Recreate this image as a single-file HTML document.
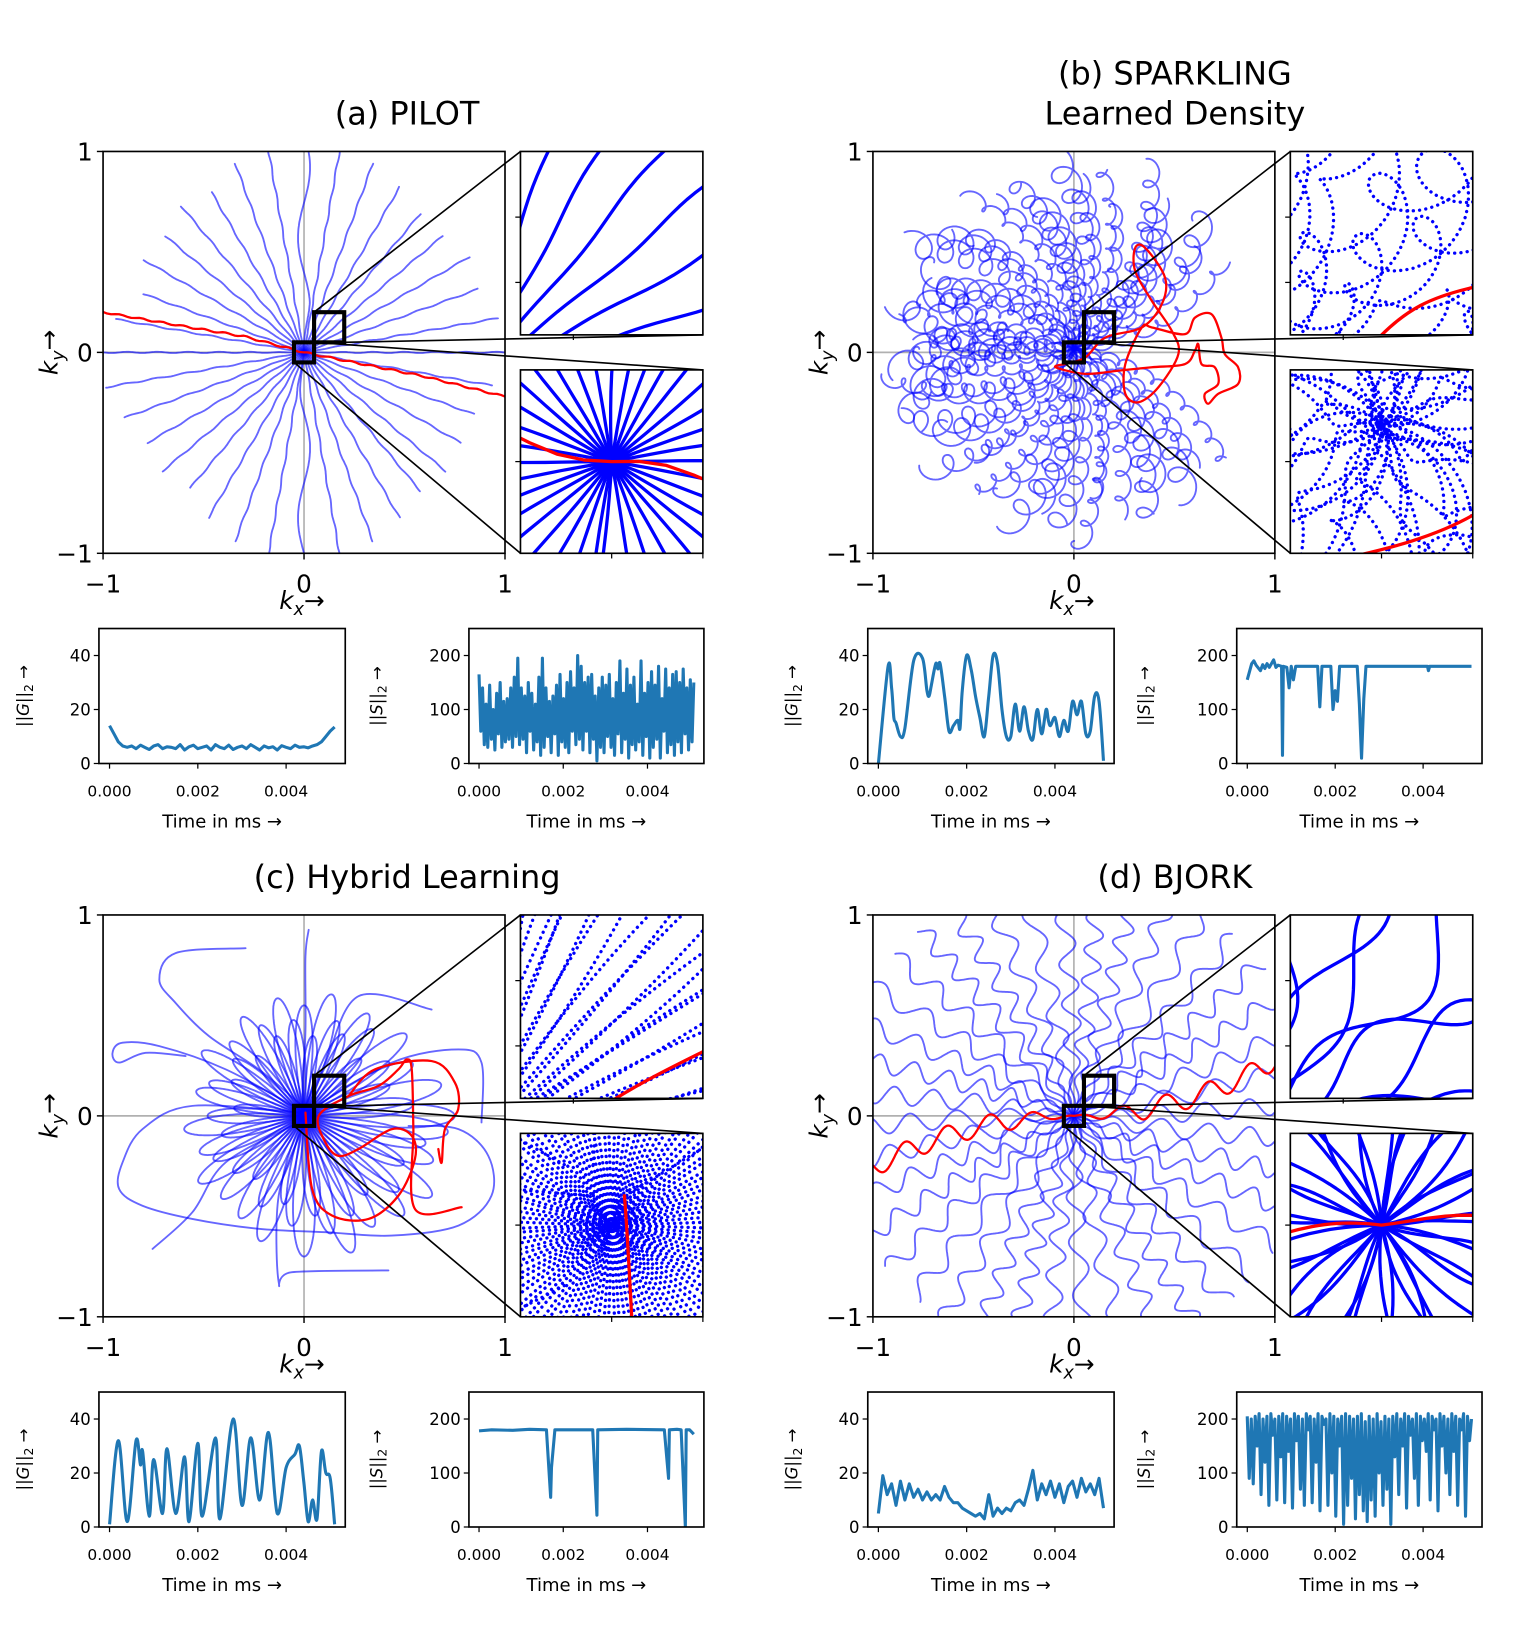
<!DOCTYPE html>
<html><head><meta charset="utf-8"><style>
html,body{margin:0;padding:0;background:#fff;overflow:hidden;width:1515px;height:1629px;}
svg{display:block;font-family:"DejaVu Sans","Liberation Sans",sans-serif;}
</style></head><body>
<svg id="fig" width="1515" height="1629" viewBox="0 0 1470 1581" preserveAspectRatio="none" xmlns="http://www.w3.org/2000/svg">
<rect x="0" y="0" width="1470" height="1581" fill="#fff"/>
</svg>
<script>
// ---------- time series data ----------
const gaValues=[14,11,8,6.5,6,6.5,5.5,6.8,6,5.2,6.5,7,5.5,6.2,6,5.5,7,5,6.2,6.8,5.5,6,6.5,5,7,6,5.5,6.8,5.2,6,6.5,5.5,7,6,5,6.5,5.8,6.2,5,6.6,6,5.5,6.8,6,6.2,5.8,6.5,7,8,10,12,13.5];
const saValues=[165,60,140,35,110,30,145,45,100,25,130,55,150,30,115,40,120,45,140,30,160,50,195,35,140,45,125,20,150,60,130,25,110,40,160,15,195,30,140,50,115,20,125,55,145,15,165,40,120,30,150,20,170,60,140,35,200,45,180,25,150,60,160,20,165,45,125,5,140,30,160,20,145,50,165,30,120,15,150,55,190,20,130,45,175,10,145,35,160,25,110,40,190,15,130,50,150,10,170,30,145,45,180,10,120,60,175,20,140,35,165,15,170,40,150,20,175,55,140,25,155,40,150];
const gbTimes=[0,0.00022,0.0003,0.00035,0.0004,0.0005,0.0006,0.0008,0.001,0.0011,0.00115,0.0012,0.0013,0.00135,0.0014,0.0015,0.0016,0.0017,0.0018,0.00185,0.0019,0.002,0.0021,0.0022,0.0023,0.0024,0.0025,0.0026,0.0027,0.0028,0.0029,0.003,0.0031,0.0032,0.0033,0.0034,0.0035,0.0036,0.0037,0.0038,0.00385,0.0039,0.004,0.0041,0.0042,0.0043,0.0044,0.0045,0.0046,0.0047,0.0048,0.0049,0.005,0.0051];
const gbValues=[0,36,28,17,15,10,13,38,39,27,25,29,37,35,37,25,12,14,16,13,27,40,35,25,17,10,25,40,37,20,10,10,22,12,21,12,9,20,11,20,16,14,17,10,16,12,23,18,23,11,12,25,23,1];
const sbTimes=[0,0.0001,0.00015,0.0002,0.0003,0.00035,0.0004,0.00045,0.0005,0.0006,0.00065,0.0007,0.00078,0.0008,0.00082,0.0009,0.00095,0.001,0.00105,0.0011,0.0012,0.0016,0.00165,0.0017,0.0019,0.00195,0.002,0.00205,0.0021,0.0025,0.00255,0.0026,0.00265,0.0027,0.0041,0.00412,0.00415,0.0051];
const sbValues=[155,185,190,182,172,183,176,185,178,192,178,182,180,15,180,178,140,180,155,180,180,180,105,180,180,100,135,115,180,180,110,10,120,180,180,172,180,180];
const gcTimes=[0,0.0002,0.0004,0.0006,0.0007,0.00075,0.0009,0.001,0.0012,0.0013,0.0015,0.0017,0.0018,0.002,0.0021,0.0024,0.0025,0.0028,0.003,0.0032,0.0034,0.0036,0.0038,0.004,0.0042,0.0043,0.0044,0.0045,0.0046,0.0047,0.0048,0.0049,0.005,0.0051];
const gcValues=[1,32,2,32,23,28,4,25,5,29,5,26,2,31,4,33,3,40,8,33,10,35,5,22,27,30,17,2,10,3,28,20,18,1];
const scTimes=[0,0.0003,0.0008,0.0012,0.0016,0.0017,0.00172,0.0018,0.0027,0.0028,0.00282,0.0035,0.0044,0.0045,0.00452,0.0047,0.0048,0.0049,0.00492,0.005,0.0051];
const scValues=[178,180,179,181,180,55,110,180,180,22,180,181,180,90,180,181,180,0,180,180,172];
const gdValues=[5,19,12,16,8,17,10,16,11,14,10,13,10,12,10,15,11,9,9,7,6,5,4,5,3,12,4,7,5,7,6,9,10,8,14,21,10,16,12,17,11,16,9,15,17,11,18,13,16,12,18,7];
const sdValues=[205,90,200,80,205,150,210,60,200,120,205,40,210,170,200,50,205,130,210,45,205,140,200,35,210,160,205,70,200,40,210,180,205,45,200,120,210,30,205,190,200,40,210,100,205,20,200,150,205,5,210,40,205,90,200,15,205,60,210,30,195,10,205,50,200,20,210,100,195,40,205,70,200,5,205,130,210,60,200,150,210,35,205,170,200,90,210,40,205,160,200,140,210,50,205,180,200,30,210,150,205,100,200,60,210,140,205,40,200,180,210,20,205,160,200];
const timeTicks=[0,0.002,0.004];
const timeTickLabels=["0.000","0.002","0.004"];
const gTicks=[0,20,40];
const sTicks=[0,100,200];

// ---------- trajectory parameters ----------
const pilotAngles=[0,10,20,30,40,50,60,70,80,90,100,110,120,130,140,150,160,170];
const pilotPosLen=[1.0,0.98,0.92,0.95,0.9,0.9,0.95,1.0,1.05,1.05,1.05,1.0,0.92,0.95,0.9,0.92,0.85,0.95];
const pilotNegLen=[1.0,1.0,0.95,0.9,0.92,0.88,0.95,1.0,1.05,1.05,1.05,1.0,0.95,0.9,0.92,0.9,0.9,0.95];
const pilotRed=[[-1,0.2],[-0.6,0.13],[-0.3,0.08],[0,0],[0.3,-0.06],[0.6,-0.12],[1,-0.22]];
const sparkRadii=[0.85,0.75,0.9,0.7,0.8,0.95,0.72,0.88,0.78,0.92,0.7,0.85,0.8,0.9,0.74,0.86,0.95,0.7,0.82,0.9,0.76,0.88,0.8,0.93];
const sparkRed=[[-0.042,-0.058],[0.057,-0.025],[0.157,0.074],[0.338,0.124],[0.437,0.239],[0.454,0.371],[0.355,0.52],[0.305,0.52],[0.305,0.404],[0.388,0.256],[0.487,0.107],[0.52,-0.008],[0.421,-0.173],[0.322,-0.248],[0.256,-0.206],[0.256,-0.058],[0.338,0.124],[0.388,0.124],[0.553,0.091],[0.602,0.173],[0.685,0.19],[0.734,0.074],[0.751,-0.008],[0.817,-0.074],[0.817,-0.157],[0.718,-0.206],[0.668,-0.256],[0.652,-0.206],[0.718,-0.157],[0.701,-0.074],[0.635,-0.058],[0.619,0.041],[0.602,0.008],[0.553,-0.058],[0.388,-0.074],[0.223,-0.091],[0.057,-0.107],[-0.091,-0.074],[-0.042,-0.058]];
const hybridLens=[0.75,0.55,0.7,0.45,0.6,0.5,0.65,0.4,0.55,0.6,0.45,0.5,0.62,0.4,0.55,0.48,0.6,0.42,0.5,0.58,0.38,0.52,0.45,0.6,0.4,0.5,0.55,0.35,0.48,0.6,0.42,0.55,0.5,0.62,0.45,0.58,0.4,0.6,0.5,0.66,0.45,0.55,0.7,0.5,0.6,0.72,0.55,0.65,0.5,0.7,0.6,0.75,0.55,0.68,0.62,0.72];
const hybridOuter=[
 [[-0.01,0.016],[-0.556,0.05],[-0.804,-0.066],[-0.903,-0.232],[-0.92,-0.364],[-0.804,-0.447],[-0.556,-0.513],[-0.225,-0.562],[0.106,-0.579],[0.437,-0.596],[0.768,-0.546],[0.933,-0.397],[0.917,-0.199],[0.768,-0.066],[0.52,-0.05]],
 [[-0.01,0.05],[-0.225,0.232],[-0.473,0.397],[-0.639,0.562],[-0.72,0.678],[-0.639,0.81],[-0.291,0.835]],
 [[-0.026,0.033],[-0.39,0.232],[-0.72,0.347],[-0.903,0.364],[-0.953,0.314],[-0.92,0.265],[-0.788,0.314],[-0.589,0.298]],
 [[-0.026,-0.033],[-0.39,-0.232],[-0.556,-0.48],[-0.754,-0.662]],
 [[-0.01,-0.066],[-0.126,-0.397],[-0.126,-0.827],[-0.06,-0.778],[0.42,-0.769]],
 [[-0.01,0.033],[0.007,0.43],[0.007,0.794],[0.023,0.926]],
 [[0.007,0.05],[0.106,0.265],[0.271,0.596],[0.635,0.529]],
 [[0.007,0.016],[0.437,0.265],[0.768,0.331],[0.883,0.265],[0.883,-0.033]]
];
const hybridRed1=[[0.007,0.016],[0.04,-0.363],[0.139,-0.496],[0.321,-0.513],[0.47,-0.397],[0.552,-0.215],[0.536,-0.099],[0.437,-0.066],[0.271,-0.165],[0.172,-0.199],[0.106,-0.132],[0.073,0],[0.222,0.099],[0.371,0.149],[0.47,0.232],[0.511,0.281],[0.536,0.232],[0.544,-0.066],[0.552,-0.463],[0.784,-0.455]];
const hybridRed2=[[0.222,0.099],[0.354,0.232],[0.635,0.273],[0.751,0.165],[0.767,0.033],[0.701,-0.066],[0.685,-0.232],[0.668,-0.165]];
const bjorkCount=40;

const NS="http://www.w3.org/2000/svg";
const svg=document.getElementById('fig');
function el(tag,attrs,parent){const e=document.createElementNS(NS,tag);for(const k in attrs)e.setAttribute(k,attrs[k]);(parent||svg).appendChild(e);return e;}
function txt(s,attrs,parent){const e=el('text',attrs,parent);e.textContent=s;return e;}

function catmull(P){
  if(P.length<3)return "M"+P.map(p=>p[0].toFixed(1)+","+p[1].toFixed(1)).join("L");
  let d="M"+P[0][0].toFixed(1)+","+P[0][1].toFixed(1);
  for(let i=0;i<P.length-1;i++){
    const p0=P[Math.max(0,i-1)],p1=P[i],p2=P[i+1],p3=P[Math.min(P.length-1,i+2)];
    const c1=[p1[0]+(p2[0]-p0[0])/6,p1[1]+(p2[1]-p0[1])/6],c2=[p2[0]-(p3[0]-p1[0])/6,p2[1]-(p3[1]-p1[1])/6];
    d+="C"+c1[0].toFixed(1)+","+c1[1].toFixed(1)+" "+c2[0].toFixed(1)+","+c2[1].toFixed(1)+" "+p2[0].toFixed(1)+","+p2[1].toFixed(1);
  }
  return d;
}
function poly(P){return "M"+P.map(p=>p[0].toFixed(1)+","+p[1].toFixed(1)).join("L");}

// ---------- trajectory builders ----------
function pilotTraj(){
  const T=[];
  pilotAngles.forEach((a,i)=>{
    const th=a*Math.PI/180,c=Math.cos(th),s=Math.sin(th);
    const amp=(a===90)?0.03:0.003;
    const pts=[];
    for(let k=0;k<=220;k++){
      const r=-pilotNegLen[i]+(pilotPosLen[i]+pilotNegLen[i])*k/220;
      const w=amp*Math.sin(r*(a===90?9:41)+i)*Math.min(1,Math.abs(r)*4);
      pts.push([r*c-w*s,r*s+w*c]);
    }
    T.push({pts:pts,red:false,smooth:false});
  });
  const rp=[];for(let i=0;i<pilotRed.length-1;i++){for(let k=0;k<20;k++){const f=k/20;const x=pilotRed[i][0]+(pilotRed[i+1][0]-pilotRed[i][0])*f,y=pilotRed[i][1]+(pilotRed[i+1][1]-pilotRed[i][1])*f;rp.push([x,y+0.004*Math.sin(x*60)]);}}
  rp.push(pilotRed[pilotRed.length-1]);
  T.push({pts:rp,red:true,smooth:false});
  return T;
}
function sparkTraj(){
  const T=[];
  sparkRadii.forEach((R,i)=>{
    const th=i*7.5*Math.PI/180,ph=i*1.7,nl=15+(i%6);
    const pts=[];
    for(let k=0;k<=600;k++){
      const s=k/600,u=2*s-1,r=R*u,ang=th+0.5*u;
      const a=(0.05+0.02*Math.sin(5*s+i))*Math.sqrt(Math.abs(u));
      pts.push([r*Math.cos(ang)+a*Math.cos(2*Math.PI*nl*s+ph),1.05*r*Math.sin(ang)+a*Math.sin(2*Math.PI*nl*s+ph)+0.02]);
    }
    T.push({pts:pts,red:false,smooth:false});
  });
  T.push({pts:sparkRed,red:true,smooth:true});
  return T;
}
function hybridTraj(){
  const T=[];
  hybridLens.forEach((L,i)=>{
    const th=i*(2*Math.PI/hybridLens.length),d=0.2;
    const pts=[];
    for(let k=0;k<=120;k++){
      const s=k/120,r=L*Math.pow(Math.sin(Math.PI*s),0.8),ang=th+d*(2*s-1);
      pts.push([r*Math.cos(ang),r*Math.sin(ang)]);
    }
    T.push({pts:pts,red:false,smooth:false});
  });
  hybridOuter.forEach(p=>T.push({pts:p,red:false,smooth:true}));
  T.push({pts:hybridRed1,red:true,smooth:true});
  T.push({pts:hybridRed2,red:true,smooth:true});
  return T;
}
function bjorkTraj(){
  const T=[];
  for(let i=0;i<bjorkCount;i++){
    const th=i*2*Math.PI/bjorkCount,ph=i*2.3,wl=0.2+0.04*Math.sin(i*1.3);
    const pts=[];
    for(let k=0;k<=300;k++){
      const r=1.2*k/300,ang=th+0.05*r;
      const w=0.045*Math.min(1,r/0.35)*Math.sin(2*Math.PI*r/wl+ph+0.8*Math.sin(5*r+i));
      const c=Math.cos(ang),s=Math.sin(ang);
      pts.push([r*c-w*s,r*s+w*c]);
    }
    T.push({pts:pts,red:false,smooth:false});
  }
  const rp=[];
  for(let k=-300;k<=300;k++){
    const r=1.05*k/300,ang=(r<0?(14*Math.PI/180):(15*Math.PI/180))*Math.abs(r);
    const w=0.05*Math.min(1,Math.abs(r)/0.35)*Math.sin(2*Math.PI*r/0.22+1);
    const rr=Math.abs(r),a2=r<0?Math.PI+ang:ang;
    rp.push([rr*Math.cos(a2),rr*Math.sin(a2)+w]);
  }
  T.push({pts:rp,red:true,smooth:false});
  return T;
}

let clipId=0;
function drawTrajs(T,map,clipRect,inset,dotted,name){
  const id='clip'+(clipId++);
  const cp=el('clipPath',{id:id});el('rect',clipRect,cp);
  const g=el('g',{'clip-path':'url(#'+id+')'});
  
  
  T.filter(t=>!t.red).concat(T.filter(t=>t.red)).forEach(t=>{
    const P=t.pts.map(p=>map(p[0],p[1]));
    const d=t.smooth?catmull(P):poly(P);
    const attrs={d:d,fill:'none','stroke-linejoin':'round','stroke-linecap':'round'};
    if(t.red){attrs.stroke='#ff0000';attrs['stroke-width']=inset?3.2:2.2;}
    else if(inset){attrs.stroke='#0000ff';attrs['stroke-width']=3.2;if(dotted){attrs['stroke-dasharray']='0.1 6';}}
    else{attrs.stroke='#0000ff';attrs['stroke-opacity']=0.6;attrs['stroke-width']=1.8;}
    const p=el('path',attrs,g);
    
    
  });
}

const W=195;
function kLabel(x,y,sub,rot,parent){
  const t=el('text',{x:x,y:y,'font-size':24,'text-anchor':'middle',transform:rot?('rotate(-90 '+x+' '+y+')'):''},parent);
  const a=el('tspan',{'font-style':'italic'},t);a.textContent='k';
  const b=el('tspan',{'font-style':'italic','font-size':17,dy:6},t);b.textContent=sub;
  const c=el('tspan',{dy:-6},t);c.textContent='→';
  return t;
}

function panel(ox,oy,T,dotted,name){
  const g=el('g',{});
  
  
  const map=(x,y)=>[ox+(x+1)*W,oy+(1-y)*W];
  el('line',{x1:ox+W,y1:oy,x2:ox+W,y2:oy+2*W,stroke:'#b0b0b0','stroke-width':1.6},g);
  el('line',{x1:ox,y1:oy+W,x2:ox+2*W,y2:oy+W,stroke:'#b0b0b0','stroke-width':1.6},g);
  drawTrajs(T,map,{x:ox,y:oy,width:2*W,height:2*W},false,false,name+'-main-trajectories');
  const ix=ox+405,iw=177,ih=178;
  const r1=[0.05,0.2,0.05,0.2],r2=[-0.05,0.05,-0.05,0.05];
  const iy1=oy,iy2=oy+212;
  const im=(iy,r)=>(x,y)=>[ix+(x-r[0])/(r[1]-r[0])*iw,iy+(r[3]-y)/(r[3]-r[2])*ih];
  drawTrajs(T,im(iy1,r1),{x:ix,y:iy1,width:iw,height:ih},true,dotted,name+'-zoom-inset-outer');
  drawTrajs(T,im(iy2,r2),{x:ix,y:iy2,width:iw,height:ih},true,dotted,name+'-zoom-inset-center');
  const f=el('rect',{x:ox,y:oy,width:2*W,height:2*W,fill:'none',stroke:'#000','stroke-width':1.6});
  
  [iy1,iy2].forEach((iy,j)=>{
    const r=el('rect',{x:ix,y:iy,width:iw,height:ih,fill:'none',stroke:'#000','stroke-width':1.6});
    
    
  });
  [0.358,0.714].forEach(fr=>el('line',{x1:ix-5,x2:ix,y1:iy1+fr*ih,y2:iy1+fr*ih,stroke:'#000','stroke-width':1.2}));
  el('line',{x1:ix+0.29*iw,x2:ix+0.29*iw,y1:iy1+ih,y2:iy1+ih+5,stroke:'#000','stroke-width':1.2});
  el('line',{x1:ix-5,x2:ix,y1:iy2+ih/2,y2:iy2+ih/2,stroke:'#000','stroke-width':1.2});
  el('line',{x1:ix+iw/2,x2:ix+iw/2,y1:iy2+ih,y2:iy2+ih+5,stroke:'#000','stroke-width':1.2});
  el('line',{x1:ix+iw,x2:ix+iw,y1:iy2+ih,y2:iy2+ih+5,stroke:'#000','stroke-width':1.2});
  const b1a=map(-0.05,0.05),b1b=map(0.05,-0.05),b2a=map(0.05,0.2),b2b=map(0.2,0.05);
  const zb1=el('rect',{x:b1a[0],y:b1a[1],width:b1b[0]-b1a[0],height:b1b[1]-b1a[1],fill:'none',stroke:'#000','stroke-width':4});
  
  const zb2=el('rect',{x:b2a[0],y:b2a[1],width:b2b[0]-b2a[0],height:b2b[1]-b2a[1],fill:'none',stroke:'#000','stroke-width':4});
  
  const L=[[b2a,[ix,iy1]],[b2b,[ix+iw,iy1+ih]],[[b1b[0],b1a[1]],[ix+iw,iy2]],[[b1a[0],b1b[1]],[ix,iy2+ih]]];
  L.forEach(l=>el('line',{x1:l[0][0],y1:l[0][1],x2:l[1][0],y2:l[1][1],stroke:'#000','stroke-width':1.6}));
  [[1,'1'],[0,'0'],[-1,'−1']].forEach(([v,s])=>{
    const y=map(0,v)[1];
    el('line',{x1:ox-6,x2:ox,y1:y,y2:y,stroke:'#000','stroke-width':1.4});
    txt(s,{x:ox-10,y:y+9,'font-size':24,'text-anchor':'end'});
    const x=map(v,0)[0];
    el('line',{x1:x,x2:x,y1:oy+2*W,y2:oy+2*W+6,stroke:'#000','stroke-width':1.4});
    txt(s,{x:x,y:oy+2*W+38,'font-size':24,'text-anchor':'middle'});
  });
  const xl=kLabel(ox+193,oy+2*W+54,'x',false);
  
  const yl=kLabel(ox-44,oy+W,'y',true);
  
}

function smallChart(x0,y0,w,h,times,values,ymax,ticks,sym,name,smooth){
  const g=el('g',{});
  
  
  const xs=t=>x0+(t+0.00024)/(0.00558)*w, ys=v=>y0+h-v/ymax*h;
  const id='clip'+(clipId++);const cp=el('clipPath',{id:id});el('rect',{x:x0,y:y0,width:w,height:h},cp);
  const P=values.map((v,i)=>[xs(times[i]),ys(v)]);
  const line=el('path',{d:smooth?catmull(P):poly(P),fill:'none',stroke:'#1f77b4','stroke-width':3,'stroke-linejoin':'round','clip-path':'url(#'+id+')'},g);
  
  
  el('rect',{x:x0,y:y0,width:w,height:h,fill:'none',stroke:'#000','stroke-width':1.6},g);
  ticks.forEach(v=>{el('line',{x1:x0-5,x2:x0,y1:ys(v),y2:ys(v),stroke:'#000','stroke-width':1.2},g);
    txt(String(v),{x:x0-8,y:ys(v)+6,'font-size':16,'text-anchor':'end'},g);});
  timeTicks.forEach((t,i)=>{el('line',{x1:xs(t),x2:xs(t),y1:y0+h,y2:y0+h+5,stroke:'#000','stroke-width':1.2},g);
    txt(timeTickLabels[i],{x:xs(t),y:y0+h+32,'font-size':15,'text-anchor':'middle'},g);});
  const xt=txt('Time in ms  →',{x:x0+w/2,y:y0+h+62,'font-size':17.5,'text-anchor':'middle'},g);
  
  const lx=x0-(sym==='G'?68:84),ly=y0+h/2;
  const t=el('text',{x:lx,y:ly,'font-size':16,'text-anchor':'middle',transform:'rotate(-90 '+lx+' '+ly+')'},g);
  
  const a=el('tspan',{},t);a.textContent='||';
  const b=el('tspan',{'font-style':'italic'},t);b.textContent=sym;
  const c=el('tspan',{},t);c.textContent='||';
  const d=el('tspan',{'font-size':12,dy:4},t);d.textContent='2';
  const e=el('tspan',{dy:-4},t);e.textContent=' →';
}
const reg=(n)=>Array.from({length:n},(_,i)=>i*0.0051/(n-1));

function title(lines,cx,y){lines.forEach((s,i)=>{const t=txt(s,{x:cx,y:y+i*39,'font-size':31,'text-anchor':'middle'});});}
title(['(a) PILOT'],395,121);
title(['(b) SPARKLING','Learned Density'],1140,82);
title(['(c) Hybrid Learning'],395,862);
title(['(d) BJORK'],1140,862);

panel(100,147,pilotTraj(),false,'pilot');
panel(847,147,sparkTraj(),true,'sparkling');
panel(100,888,hybridTraj(),true,'hybrid');
panel(847,888,bjorkTraj(),false,'bjork');

smallChart(96,610,239,131,reg(gaValues.length),gaValues,50,gTicks,'G','pilot-gradient-chart',false);
smallChart(455,610,228,131,reg(saValues.length),saValues,250,sTicks,'S','pilot-slew-chart',false);
smallChart(842,610,239,131,gbTimes,gbValues,50,gTicks,'G','sparkling-gradient-chart',true);
smallChart(1200,610,238,131,sbTimes,sbValues,250,sTicks,'S','sparkling-slew-chart',false);
smallChart(96,1351,239,131,gcTimes,gcValues,50,gTicks,'G','hybrid-gradient-chart',true);
smallChart(455,1351,228,131,scTimes,scValues,250,sTicks,'S','hybrid-slew-chart',false);
smallChart(842,1351,239,131,reg(gdValues.length),gdValues,50,gTicks,'G','bjork-gradient-chart',false);
smallChart(1200,1351,238,131,reg(sdValues.length),sdValues,250,sTicks,'S','bjork-slew-chart',false);
</script>
</body></html>
